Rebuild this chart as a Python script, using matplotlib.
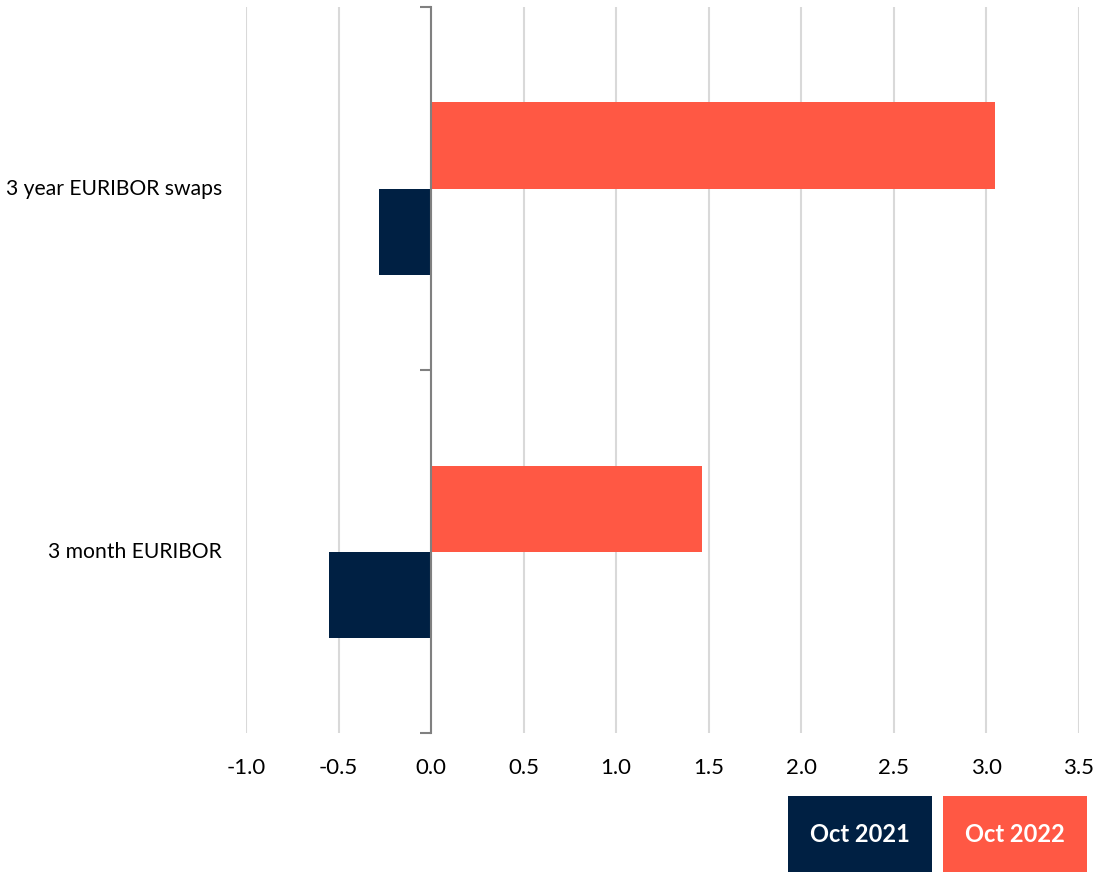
import numpy as np
import matplotlib.pyplot as plt
from matplotlib.patches import Rectangle
import matplotlib.transforms as mtransforms

plt.rcParams['font.family'] = ['Lato', 'DejaVu Sans']

categories = ['3 month EURIBOR', '3 year EURIBOR swaps']
series_names = ['Oct 2021', 'Oct 2022']
oct_2021 = [-0.55, -0.28]
oct_2022 = [1.465, 3.045]
colors = ['#002043', '#FF5844']

fig = plt.figure(figsize=(11.02, 8.72), dpi=100)
ax = fig.add_axes([0.2232, 0.159, 0.7558, 0.833])

y = np.arange(len(categories))
h = 0.2375
ax.barh(y - h / 2, oct_2021, height=h, color=colors[0], zorder=3)
ax.barh(y + h / 2, oct_2022, height=h, color=colors[1], zorder=3)

ax.set_xlim(-1.0, 3.5)
ax.set_ylim(-0.5, 1.5)
ax.set_xticks(np.arange(-1.0, 3.51, 0.5))
ax.set_xticklabels([f'{v:.1f}' for v in np.arange(-1.0, 3.51, 0.5)], fontsize=16)
ax.tick_params(axis='x', length=0, pad=18)
ax.grid(axis='x', color='#D9D9D9', linewidth=1.5, zorder=0)

for s in ['top', 'right', 'bottom']:
    ax.spines[s].set_visible(False)
ax.spines['left'].set_position(('data', 0))
ax.spines['left'].set_color('#808080')
ax.spines['left'].set_linewidth(1.5)
ax.spines['left'].set_zorder(4)

ax.set_yticks(y)
ax.set_yticklabels([])
ax.tick_params(axis='y', which='major', length=0)
ax.set_yticks([-0.5, 0.5, 1.5], minor=True)
ax.tick_params(axis='y', which='minor', length=8, width=1.5, color='#808080')

trans = mtransforms.blended_transform_factory(ax.transAxes, ax.transData)
for yi, cat in zip(y, categories):
    ax.text(-0.029, yi, cat, transform=trans, ha='right', va='center', fontsize=15.2, color='#000000')

# legend boxes
box_x = [788 / 1102, 943 / 1102]
for bx, name, c in zip(box_x, series_names, colors):
    fig.patches.append(Rectangle((bx, 0), 144 / 1102, 76 / 872, transform=fig.transFigure,
                                 facecolor=c, edgecolor='none'))
    fig.text(bx + 72 / 1102, 38 / 872, name, ha='center', va='center', fontsize=17,
             fontweight='bold', color='white')

fig.savefig('out.png', dpi=100)
